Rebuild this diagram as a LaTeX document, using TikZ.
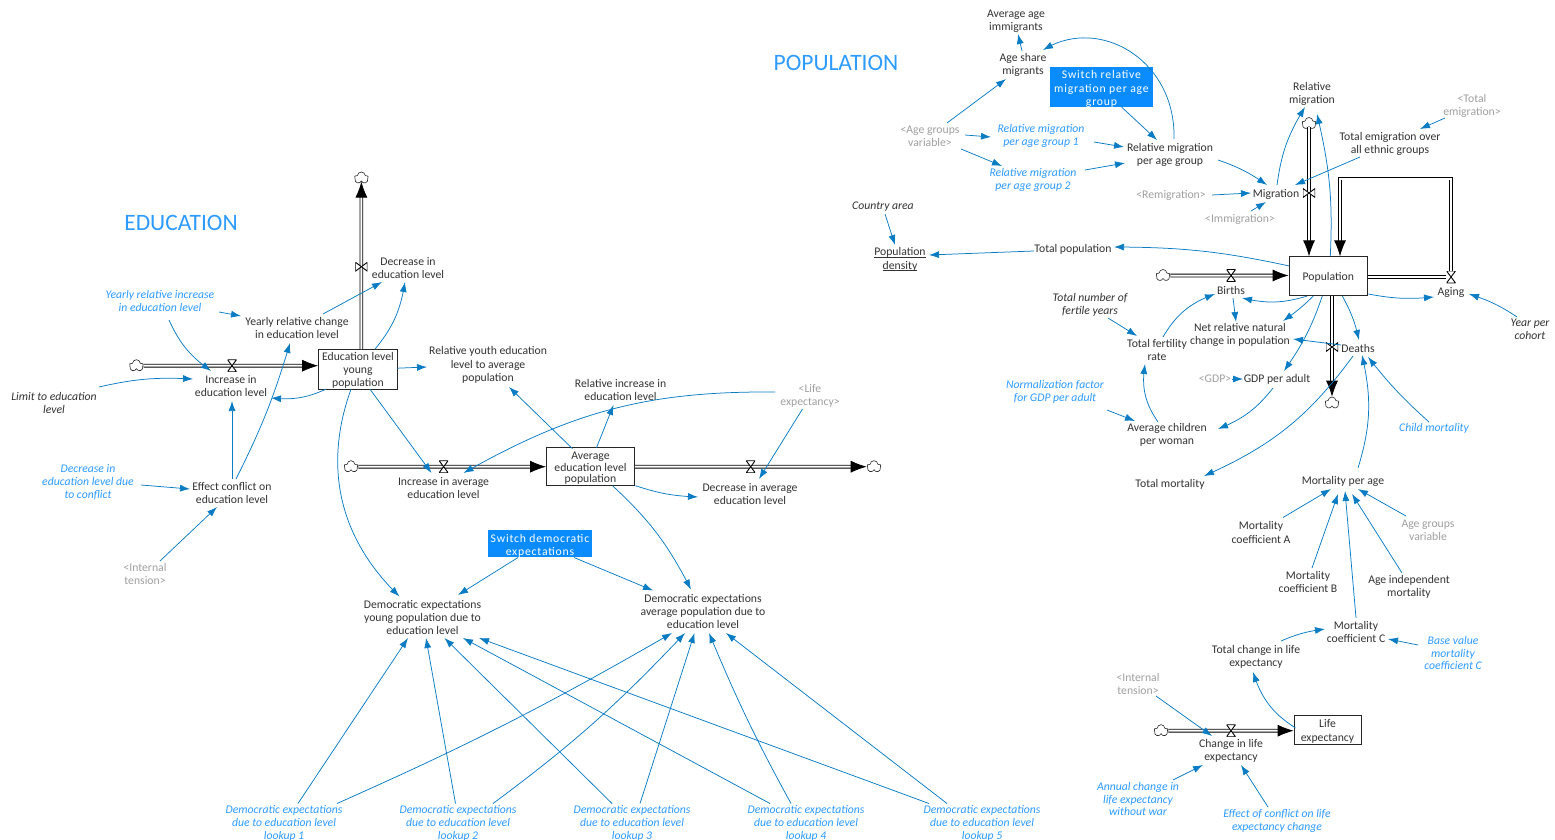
\documentclass[tikz,border=0pt]{standalone}
\usepackage{fontspec}
\setmainfont{Carlito}
\usetikzlibrary{arrows.meta,calc,shapes.symbols,bending}
\definecolor{lnkc}{HTML}{0A7CC4}
\definecolor{bluet}{HTML}{2E9BFF}
\definecolor{greyt}{HTML}{A0A0A0}
\definecolor{darkt}{HTML}{333333}
\definecolor{swbg}{HTML}{0A8CFF}
\tikzset{
  x=1pt,y=1pt,
  txt/.style={inner sep=0pt,align=center,yshift=-1pt,font=\fontsize{11.7}{13.2}\selectfont,text=darkt},
  vdark/.style={txt},
  vital/.style={txt,font=\fontsize{11.7}{13.2}\selectfont\itshape,text=darkt},
  vblue/.style={txt,font=\fontsize{11.7}{12.8}\selectfont\itshape,text=bluet},
  vgrey/.style={txt,text=greyt},
  swtxt/.style={inner sep=0pt,align=center,yshift=-2pt,text=white,font=\fontsize{11.7}{13.2}\selectfont\addfontfeatures{LetterSpace=7}},
  swbox/.style={inner sep=0pt,fill=swbg},
  stxt/.style={inner sep=0pt,align=center,yshift=-1.6pt,text=darkt,font=\fontsize{11.7}{13}\selectfont},
  stockbox/.style={inner sep=0pt,draw=black!85,fill=white,line width=.8pt},
  titlet/.style={inner sep=0pt,font=\fontsize{23.5}{25}\selectfont,text=bluet},
  cld/.style={cloud,cloud puffs=5,cloud puff arc=170,draw=black!85,fill=white,line width=.6pt,minimum width=14pt,minimum height=12pt,inner sep=0pt,aspect=1.1},
  valveH/.style={inner sep=0pt,minimum width=9pt,minimum height=12pt,path picture={\draw[black,line width=.9pt,fill=white]
     (path picture bounding box.north west)--(path picture bounding box.north east)--(path picture bounding box.south west)--(path picture bounding box.south east)--cycle;}},
  valveB/.style={inner sep=0pt,minimum width=12pt,minimum height=9pt,path picture={\draw[black,line width=.9pt,fill=white]
     (path picture bounding box.north west)--(path picture bounding box.south west)--(path picture bounding box.north east)--(path picture bounding box.south east)--cycle;}},
  flowl/.style={draw=black,line width=.8pt,double=white,double distance=2pt},
  flowa/.style={flowl,-{Latex[length=16pt,width=12pt]}},
  lnk/.style={draw=lnkc,line width=.75pt,-{Latex[length=10pt,width=7pt,flex]}},
}
\begin{document}
\begin{tikzpicture}
\useasboundingbox (0,0) rectangle (1555,-840);
\fill[white] (0,0) rectangle (1555,-840);
% ---------- titles
\node[titlet] (tEd) at (181,-223) {EDUCATION};
\node[titlet] (tPo) at (836,-63) {POPULATION};
% ---------- education stocks and clouds
\node[stockbox,minimum width=79pt,minimum height=39.5pt,label={[stxt]center:Education level\\young\\population}] (EL) at (358,-369.2) {};
\node[stockbox,minimum width=88pt,minimum height=38pt,label={[stxt]center:Average\\[-1.5pt]education level\\[-1.5pt]population}] (AE) at (590.5,-466.7) {};
\node[cld] (c1) at (361.4,-178) {};
\node[cld] (c2) at (136.4,-365.7) {};
\node[cld] (c3) at (351,-466.7) {};
\node[cld] (c4) at (874,-466.7) {};
% ---------- education variables
\node[vdark] (Dec) at (408,-267) {Decrease in\\education level};
\node[vdark] (YRC) at (297,-327) {Yearly relative change\\in education level};
\node[vblue] (YRI) at (160,-300) {Yearly relative increase\\in education level};
\node[vdark] (Inc) at (231,-385) {Increase in\\education level};
\node[vital] (Lim) at (54,-402) {Limit to education\\level};
\node[vdark] (RY) at (488,-364) {Relative youth education\\level to average\\population};
\node[vdark] (RI) at (620.5,-389) {Relative increase in\\education level};
\node[vgrey] (LfE) at (810,-395) {<Life\\expectancy>};
\node[vdark] (IA) at (443.5,-487) {Increase in average\\education level};
\node[vdark] (DA) at (750,-493) {Decrease in average\\education level};
\node[vblue] (DC) at (88,-481) {Decrease in\\education level due\\to conflict};
\node[vdark] (Eff) at (232,-492) {Effect conflict on\\education level};
\node[vgrey] (IT) at (145,-573) {<Internal\\tension>};
\node[swbox,minimum width=104.5pt,minimum height=27pt,label={[swtxt]center:Switch democratic\\expectations}] (SW) at (540,-543.5) {};
\node[vdark] (DY) at (422.5,-616.5) {Democratic expectations\\young population due to\\education level};
\node[vdark] (DAv) at (703,-610.5) {Democratic expectations\\average population due to\\education level};
\node[vblue] (L1) at (284,-822.5) {Democratic expectations\\due to education level\\lookup 1};
\node[vblue] (L2) at (458,-822.5) {Democratic expectations\\due to education level\\lookup 2};
\node[vblue] (L3) at (632,-822.5) {Democratic expectations\\due to education level\\lookup 3};
\node[vblue] (L4) at (806,-822.5) {Democratic expectations\\due to education level\\lookup 4};
\node[vblue] (L5) at (982,-822.5) {Democratic expectations\\due to education level\\lookup 5};
% ---------- population stocks and clouds
\node[stockbox,minimum width=78.5pt,minimum height=38.5pt,label={[stxt]center:Population}] (Pop) at (1328.3,-276) {};
\node[stockbox,minimum width=67pt,minimum height=28.5pt,label={[stxt]center:Life\\[1pt]expectancy}] (LE) at (1327.5,-730) {};
\node[cld] (cB) at (1163,-275.5) {};
\node[cld] (cM) at (1309,-123.5) {};
\node[cld] (cD) at (1332,-403) {};
\node[cld] (cL) at (1161,-730.7) {};
% ---------- population variables
\node[vdark] (AAI) at (1016,-20) {Average age\\immigrants};
\node[vdark] (AS) at (1023,-64) {Age share\\migrants};
\node[swbox,minimum width=103pt,minimum height=40pt,label={[swtxt]center:Switch relative\\migration per age\\group}] (SW2) at (1101.5,-87) {};
\node[vgrey] (AG) at (930,-135) {<Age groups\\variable>};
\node[vblue] (R1) at (1041,-135) {Relative migration\\per age group 1};
\node[vblue] (R2) at (1033,-179) {Relative migration\\per age group 2};
\node[vdark] (RMA) at (1170,-154) {Relative migration\\per age group};
\node[vdark] (RM) at (1312,-93) {Relative\\migration};
\node[vgrey] (TEg) at (1472,-105) {<Total\\emigration>};
\node[vdark] (TE) at (1390,-143) {Total emigration over\\all ethnic groups};
\node[vgrey] (Rem) at (1171,-194) {<Remigration>};
\node[vdark] (Mig) at (1276,-193) {Migration};
\node[vgrey] (Imm) at (1240,-218) {<Immigration>};
\node[vital] (CA) at (883,-206) {Country area};
\node[vdark] (PD) at (900,-262.5) {\underline{\smash{Population}}\\\underline{\smash{density}}};
\node[vdark] (TP) at (1073,-248) {Total population};
\node[vdark] (Bi) at (1231,-289) {Births};
\node[vdark] (Ag) at (1451,-291) {Aging};
\node[vital] (YC) at (1530,-328) {Year per\\cohort};
\node[vdark] (De) at (1358,-347) {Deaths};
\node[vital] (TNF) at (1090,-304) {Total number of\\fertile years};
\node[vdark] (TFR) at (1157,-349) {Total fertility\\rate};
\node[vdark] (NRN) at (1240,-334) {Net relative natural\\change in population};
\node[vgrey] (GD) at (1215,-378) {<GDP>};
\node[vdark] (GA) at (1277,-378) {GDP per adult};
\node[vblue] (NF) at (1055,-391) {Normalization factor\\for GDP per adult};
\node[vdark] (ACW) at (1167,-434) {Average children\\per woman};
\node[vblue] (CM) at (1434,-427) {Child mortality};
\node[vdark] (TM) at (1170,-483) {Total mortality};
\node[vdark] (MPA) at (1343,-480) {Mortality per age};
\node[vdark] (MA) at (1261,-531.5) {Mortality\\coefficient A};
\node[vdark] (MB) at (1308,-581) {Mortality\\coefficient B};
\node[vdark] (AI) at (1409,-586) {Age independent\\mortality};
\node[vgrey] (AGV) at (1428,-529) {Age groups\\variable};
\node[vdark] (MC) at (1356,-631) {Mortality\\coefficient C};
\node[vblue] (BV) at (1453,-652) {Base value\\mortality\\coefficient C};
\node[vdark] (TC) at (1256,-656) {Total change in life\\expectancy};
\node[vgrey] (IT2) at (1138,-683) {<Internal\\tension>};
\node[vdark] (CL) at (1231,-750) {Change in life\\expectancy};
\node[vblue] (AN) at (1138,-798) {Annual change in\\life expectancy\\without war};
\node[vblue] (EF) at (1277,-820) {Effect of conflict on life\\expectancy change};
% ---------- flows
\node[valveH] (VA) at (1451,-277) {};
\coordinate (LT) at (1340,-178.5);
\draw[flowl] (Pop.east |- VA) -- (VA);
\draw[flowa] (VA.north) -- (VA.north |- LT) -- (LT) -- (LT |- Pop.north);
\draw[flowa] (c2) -- (c2 -| EL.west);
\draw[flowa] (c3) -- (c3 -| AE.west);
\draw[flowa] (AE.east |- c4) -- (c4);
\draw[flowa] (c1 |- EL.north) -- (c1);
\draw[flowa] (cB) -- (cB -| Pop.west);
\draw[flowa] (cM) -- (cM |- Pop.north);
\draw[flowa] (cD |- Pop.south) -- (cD);
\draw[flowa] (cL) -- (cL -| LE.west);
\node[valveH] (V1) at (232,-365.7) {};
\node[valveB] (V2) at (361.4,-266.7) {};
\node[valveH] (V3) at (443.6,-466.7) {};
\node[valveH] (V4) at (750.7,-466.7) {};
\node[valveH] (V5) at (1231,-275.5) {};
\node[valveB] (V6) at (1309,-193) {};
\node[valveB] (V7) at (1332,-347) {};
\node[valveH] (V8) at (1231,-730.7) {};
% ---------- education links
\draw[lnk] ($(YRI)+(9,-19)$) to[bend right=15] ($(Inc)+(-20,15)$);
\draw[lnk] ($(YRI)+(59,-11)$) to ($(YRC)+(-56,12)$);
\draw[lnk] ($(YRC)+(26,14)$) to ($(Dec)+(-26,-14)$);
\draw[lnk] ($(EL)+(17,20)$) to[bend right=15] ($(Dec)+(-3,-14)$);
\draw[lnk] ($(Eff)+(4,14)$) to[bend right=5] ($(YRC)+(-7,-15)$);
\draw[lnk] ($(Eff)+(0,14)$) to ($(Inc)+(1,-15)$);
\draw[lnk] ($(Lim)+(45,16)$) to[bend left=8] ($(Inc)+(-38,7)$);
\draw[lnk] ($(EL)+(-32,-20)$) to[bend left=15] ($(Inc)+(40,-12)$);
\draw[lnk] ($(EL)+(39,1)$) to ($(RY)+(-61,-2)$);
\draw[lnk] ($(AE)+(-18,18)$) to ($(RY)+(21,-22)$);
\draw[lnk] ($(AE)+(6,19)$) to ($(RI)+(-7,-15)$);
\draw[lnk] ($(LfE)+(-35,4)$) to[bend right=15] ($(IA)+(20,15)$);
\draw[lnk] ($(LfE)+(-7.5,-13)$) to ($(DA)+(9,15)$);
\draw[lnk] ($(EL)+(12,-20)$) to ($(IA)+(-12,15)$);
\draw[lnk] ($(AE)+(45,-19)$) to[bend right=8] ($(DA)+(-52,-3)$);
\draw[lnk] ($(EL)+(-7,-20)$) to[bend right=33] ($(DY)+(-23,21)$);
\draw[lnk] ($(AE)+(22,-19)$) to[bend left=10] ($(DAv)+(-12,22)$);
\draw[lnk] ($(SW)+(-22,-14)$) to ($(DY)+(35.5,22.5)$);
\draw[lnk] ($(SW)+(34,-14)$) to ($(DAv)+(-50,21)$);
\draw[lnk] ($(DC)+(53,-3)$) to ($(Eff)+(-42,4)$);
\draw[lnk] ($(IT)+(15,13)$) to ($(Eff)+(-15,-14)$);
% lookups
\draw[lnk] ($(L1)+(14,20)$) to ($(DY)+(-14.5,-20.5)$);
\draw[lnk] ($(L1)+(53,20)$) to[bend right=3] ($(DAv)+(-31,-21.5)$);
\draw[lnk] ($(L2)+(-2.5,20)$) to ($(DY)+(3.5,-20.5)$);
\draw[lnk] ($(L2)+(35,20)$) to[bend right=5] ($(DAv)+(-18,-21.5)$);
\draw[lnk] ($(L3)+(-20,20)$) to ($(DY)+(22,-20.5)$);
\draw[lnk] ($(L3)+(8,20)$) to ($(DAv)+(-8.5,-21.5)$);
\draw[lnk] ($(L4)+(-36,20)$) to ($(DY)+(40.5,-20.5)$);
\draw[lnk] ($(L4)+(-15,20)$) to[bend left=3] ($(DAv)+(6,-21.5)$);
\draw[lnk] ($(L5)+(-53,20)$) to ($(DY)+(56.5,-20.5)$);
\draw[lnk] ($(L5)+(-35,20)$) to ($(DAv)+(23,-21.5)$);
% ---------- population links
\draw[lnk] ($(AS)+(-1,14)$) to ($(AAI)+(2,-13)$);
\draw[lnk] ($(RMA)+(4,16)$) .. controls +(2,80) and +(55,35) .. ($(AS)+(20,15)$);
\draw[lnk] ($(SW2)+(20,-20)$) to ($(RMA)+(-13,15)$);
\draw[lnk] ($(AG)+(17,13)$) to ($(AS)+(-17,-14)$);
\draw[lnk] ($(AG)+(35,1)$) to ($(R1)+(-50,-1)$);
\draw[lnk] ($(AG)+(31,-13)$) to ($(R2)+(-31,14)$);
\draw[lnk] ($(R1)+(53,-6)$) to ($(RMA)+(-46,8)$);
\draw[lnk] ($(R2)+(52,10)$) to ($(RMA)+(-45,-8)$);
\draw[lnk] ($(RMA)+(48,-5)$) to[bend left=8] ($(Mig)+(-9,9)$);
\draw[lnk] ($(Rem)+(41,0)$) to ($(Mig)+(-25,1)$);
\draw[lnk] ($(Imm)+(11,8)$) to ($(Mig)+(-10,-8)$);
\draw[lnk] ($(Mig)+(1,9)$) to[bend left=12] ($(RM)+(-7,-13)$);
\draw[lnk] ($(Pop)+(2,20)$) to[bend right=8] ($(RM)+(5,-20)$);
\draw[lnk] ($(TE)+(-30,-13)$) to ($(Mig)+(19,9)$);
\draw[lnk] ($(TEg)+(-27,-12)$) to ($(TE)+(30,15)$);
\draw[lnk] ($(CA)+(2,-7)$) to ($(PD)+(-5,18.5)$);
\draw[lnk] ($(TP)+(-39,-2)$) to ($(PD)+(29,8.5)$);
\draw[lnk] ($(Pop)+(-39,10)$) to[bend right=6] ($(TP)+(41,2)$);
\draw[lnk] ($(Pop)+(-21,-20)$) to[bend left=15] ($(Bi)+(11,-8)$);
\draw[lnk] ($(Bi)+(2,-8)$) to ($(NRN)+(-4,13)$);
\draw[lnk] ($(Pop)+(-15,-20)$) to[bend left=5] ($(NRN)+(43,14)$);
\draw[lnk] ($(Pop)+(-6,-20)$) to[bend left=8] ($(GA)+(7,8)$);
\draw[lnk] ($(Pop)+(14,-20)$) to[bend left=8] ($(De)+(1,8)$);
\draw[lnk] ($(Pop)+(40,-18)$) to[bend right=8] ($(Ag)+(-17,-5)$);
\draw[lnk] ($(YC)+(-13,12)$) to[bend right=8] ($(Ag)+(18,-2)$);
\draw[lnk] ($(De)+(-17,3)$) to ($(NRN)+(53,-4)$);
\draw[lnk] ($(GD)+(17,0)$) to ($(GA)+(-34,0)$);
\draw[lnk] ($(GA)+(-4,-9)$) to[bend left=15] ($(ACW)+(51,6)$);
\draw[lnk] ($(ACW)+(-9,13)$) to[bend left=22] ($(TFR)+(-12,-14)$);
\draw[lnk] ($(TFR)+(6,13)$) to[bend left=20] ($(Bi)+(-16,-4)$);
\draw[lnk] ($(TNF)+(18,-13)$) to ($(TFR)+(-20,14)$);
\draw[lnk] ($(NF)+(52,-18)$) to ($(ACW)+(-32,14)$);
\draw[lnk] ($(De)+(-5,-8)$) to[bend left=15] ($(TM)+(34,8)$);
\draw[lnk] ($(MPA)+(15,13)$) to[bend right=15] ($(De)+(4,-7)$);
\draw[lnk] ($(CM)+(-5,6)$) to[bend left=5] ($(De)+(10,-9)$);
\draw[lnk] ($(MA)+(22,15)$) to ($(MPA)+(-12,-8)$);
\draw[lnk] ($(MB)+(4,14)$) to ($(MPA)+(-5,-13)$);
\draw[lnk] ($(AI)+(-7,14)$) to ($(MPA)+(9,-13)$);
\draw[lnk] ($(AGV)+(-22,14)$) to ($(MPA)+(15,-8)$);
\draw[lnk] ($(MC)+(0,14)$) to ($(MPA)+(2,-10)$);
\draw[lnk] ($(BV)+(-35,8)$) to ($(MC)+(32,-7)$);
\draw[lnk] ($(TC)+(25,16)$) to[bend left=8] ($(MC)+(-31,3)$);
\draw[lnk] ($(LE)+(-32,2)$) to[bend left=20] ($(TC)+(-3,-15)$);
\draw[lnk] ($(IT2)+(18,-12)$) to ($(CL)+(-19,15)$);
\draw[lnk] ($(AN)+(35,19)$) to ($(CL)+(-28,-14)$);
\draw[lnk] ($(EF)+(-9,14)$) to ($(CL)+(10,-14)$);
\end{tikzpicture}
\end{document}
